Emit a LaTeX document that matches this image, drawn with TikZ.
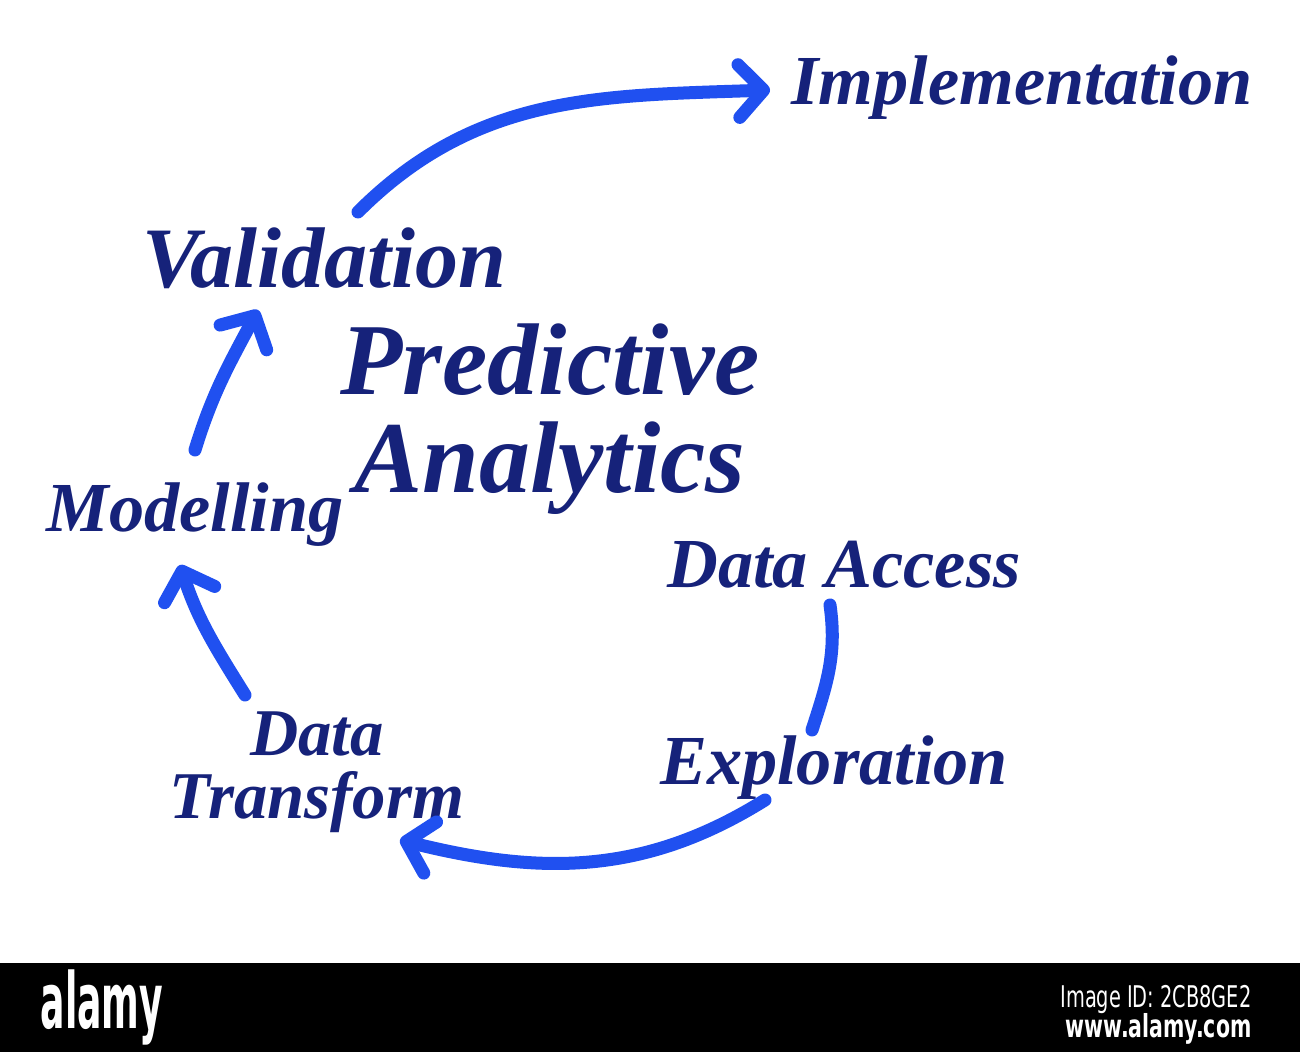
\documentclass[tikz,border=0pt]{standalone}
\usepackage{fontspec}
\setmainfont{Liberation Serif}
\newfontfamily\markfont{DejaVu Sans Condensed}
\usetikzlibrary{arrows.meta, positioning}
\definecolor{inkblue}{RGB}{22,34,122}
\definecolor{penblue}{RGB}{32,80,240}

\begin{document}
\begin{tikzpicture}[
    stage/.style={text=inkblue, inner sep=0pt, align=center,
      font=\fontsize{20}{19}\selectfont\bfseries\itshape},
    flow/.style={penblue, line width=3.7pt, line cap=round,
      >={Straight Barb[round, length=7pt, width=15pt]}},
    wmark/.style={text=white, inner sep=0pt}]

    % page and watermark band
    \fill[white] (0,0) rectangle (13,10.52);
    \fill[black] (0,0) rectangle (13,0.89);
    \useasboundingbox (0,0) rectangle (13,10.52);

    \node [stage] (impl) at (10.22, 9.64) {Implementation};
    \node [stage, font=\fontsize{24.5}{20}\selectfont\bfseries\itshape] (valid) at (3.24, 7.94) {Validation};
    \node [stage, font=\fontsize{29}{28}\selectfont\bfseries\itshape] (title) at (5.50, 6.33) {Predictive\\Analytics};
    \node [stage] (model) at (1.95, 5.37) {Modelling};
    \node [stage] (access) at (8.44, 4.87) {Data Access};
    \node [stage, font=\fontsize{19}{18}\selectfont\bfseries\itshape] (trans) at (3.17, 2.80) {Data\\Transform};
    \node [stage] (explr) at (8.34, 2.84) {Exploration};

    % free ends of the strokes
    \coordinate (v0) at (3.58, 8.40);
    \coordinate (i0) at (7.70, 9.62);
    \coordinate (m0) at (1.95, 6.02);
    \coordinate (v1) at (2.58, 7.42);
    \coordinate (t0) at (2.45, 3.57);
    \coordinate (m1) at (1.80, 4.87);
    \coordinate (e0) at (7.65, 2.52);
    \coordinate (t1) at (4.00, 2.12);
    \coordinate (a0) at (8.30, 4.47);
    \coordinate (e1) at (8.12, 3.22);

 \path[flow, ->]
      (v0) edge[out=45, in=182] (i0)
      (m0) edge[out=73, in=242] (v1)
      (t0) edge[out=122, in=-72] (m1)
      (e0) edge[out=-148, in=-14] (t1);
 \draw[flow] (a0) to[out=-82, in=72] (e1);

    \node [wmark, font=\markfont\bfseries\fontsize{22}{22}\selectfont, xscale=0.52, transform shape] (brand) at (1.02, 0.45) {alamy};
    \node [wmark, font=\markfont\fontsize{8.5}{8.5}\selectfont, anchor=east, xscale=0.72, transform shape] (imgid) at (12.52, 0.52) {Image ID: 2CB8GE2};
    \node [wmark, font=\markfont\bfseries\fontsize{9}{9}\selectfont, anchor=east, xscale=0.72, transform shape] (site) at (12.52, 0.23) {www.alamy.com};
\end{tikzpicture}
\end{document}
